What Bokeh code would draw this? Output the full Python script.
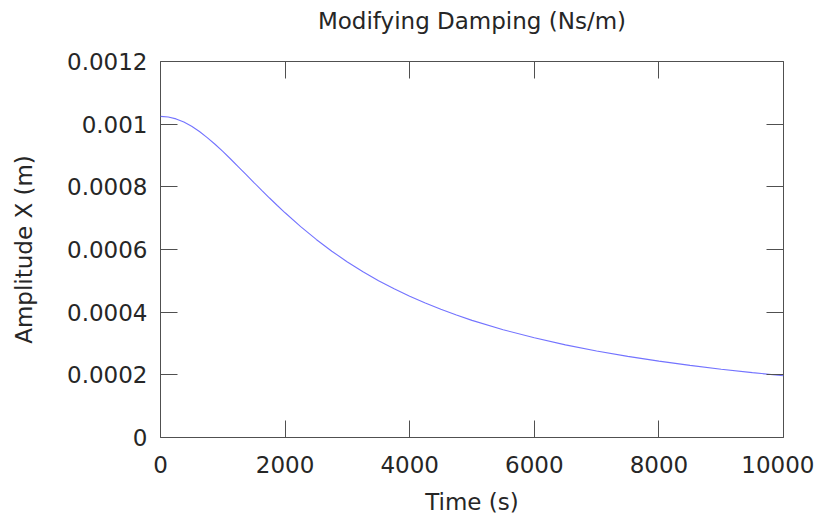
from bokeh.plotting import figure
from bokeh.models import Range1d, LinearAxis, FixedTicker
from bokeh.embed import file_html
from bokeh.resources import INLINE

# Damping / time values (x) and amplitude (y)
x_vals = [0, 125, 250, 375, 500, 625, 750, 875, 1000, 1125, 1250, 1375, 1500,
          1625, 1750, 1875, 2000, 2250, 2500, 2750,
          3000, 3250, 3500, 3750, 4000, 4250, 4500, 4750, 5000, 5500, 6000,
          6500, 7000, 7500, 8000, 8500, 9000, 9500, 10000]
amplitude = [0.001025, 0.0010229, 0.0010168, 0.0010067, 0.0009932, 0.0009765,
             0.0009572, 0.0009359, 0.0009129, 0.0008888, 0.0008640, 0.0008389,
             0.0008137, 0.0007888, 0.0007643, 0.0007404,
             0.0007172, 0.0006730, 0.0006321, 0.0005946,
             0.0005603, 0.0005291, 0.0005005, 0.0004745, 0.0004507, 0.0004290,
             0.0004090, 0.0003907, 0.0003738, 0.0003438, 0.0003181, 0.0002957,
             0.0002762, 0.0002590, 0.0002437, 0.0002301, 0.0002180, 0.0002070,
             0.0001970]

x_ticks = [0, 2000, 4000, 6000, 8000, 10000]
x_tick_labels = ["0", "2000", "4000", "6000", "8000", "10000"]
y_ticks = [0, 0.0002, 0.0004, 0.0006, 0.0008, 0.001, 0.0012]
y_tick_labels = ["0", "0.0002", "0.0004", "0.0006", "0.0008", "0.001", "0.0012"]
title_text = "Modifying Damping (Ns/m)"

FONT = "DejaVu Sans"
FS = "23px"
TXT = "#262626"
FRAME = "#505050"

p = figure(width=814, height=517, output_backend="svg", toolbar_location=None,
           x_range=Range1d(0, 10000), y_range=Range1d(0, 0.0012),
           title_location=None,
           min_border_left=160, min_border_right=31,
           min_border_top=61, min_border_bottom=79)

p.xgrid.visible = False
p.ygrid.visible = False
p.outline_line_color = FRAME
p.outline_line_width = 1
p.background_fill_color = "white"
p.border_fill_color = "white"

p.line(x_vals, amplitude, line_color="#7373ff", line_width=1.1)

def style_axis(ax, ticks, labels, show_labels=True):
    ax.ticker = FixedTicker(ticks=ticks)
    ax.major_label_overrides = {t: l for t, l in zip(ticks, labels)}
    ax.major_tick_in = 17
    ax.major_tick_out = 0
    ax.minor_tick_line_color = None
    ax.major_tick_line_color = FRAME
    ax.axis_line_color = None
    ax.major_label_text_font = FONT
    ax.major_label_text_font_size = FS
    ax.major_label_text_color = TXT
    if not show_labels:
        ax.major_label_text_font_size = "0px"
        ax.major_label_standoff = 0

xa = p.xaxis[0]
style_axis(xa, x_ticks, x_tick_labels)
xa.major_label_standoff = 18
xa.axis_label = "Time (s)"
xa.axis_label_text_font = FONT
xa.axis_label_text_font_size = FS
xa.axis_label_text_font_style = "normal"
xa.axis_label_text_color = TXT
xa.axis_label_standoff = 13

ya = p.yaxis[0]
style_axis(ya, y_ticks, y_tick_labels)
ya.major_label_standoff = 13
ya.axis_label = "Amplitude X (m)"
ya.axis_label_text_font = FONT
ya.axis_label_text_font_size = FS
ya.axis_label_text_font_style = "normal"
ya.axis_label_text_color = TXT
ya.axis_label_standoff = 27

# Top mirror axis: inward ticks, no tick labels; carries the chart title
top = LinearAxis()
style_axis(top, x_ticks, ["" for _ in x_ticks], show_labels=False)
top.axis_label = title_text
top.axis_label_text_font = FONT
top.axis_label_text_font_size = FS
top.axis_label_text_font_style = "normal"
top.axis_label_text_color = TXT
top.axis_label_standoff = 28
p.add_layout(top, "above")

right = LinearAxis()
style_axis(right, y_ticks, ["" for _ in y_ticks], show_labels=False)
p.add_layout(right, "right")

open("out.html", "w").write(file_html(p, INLINE))
